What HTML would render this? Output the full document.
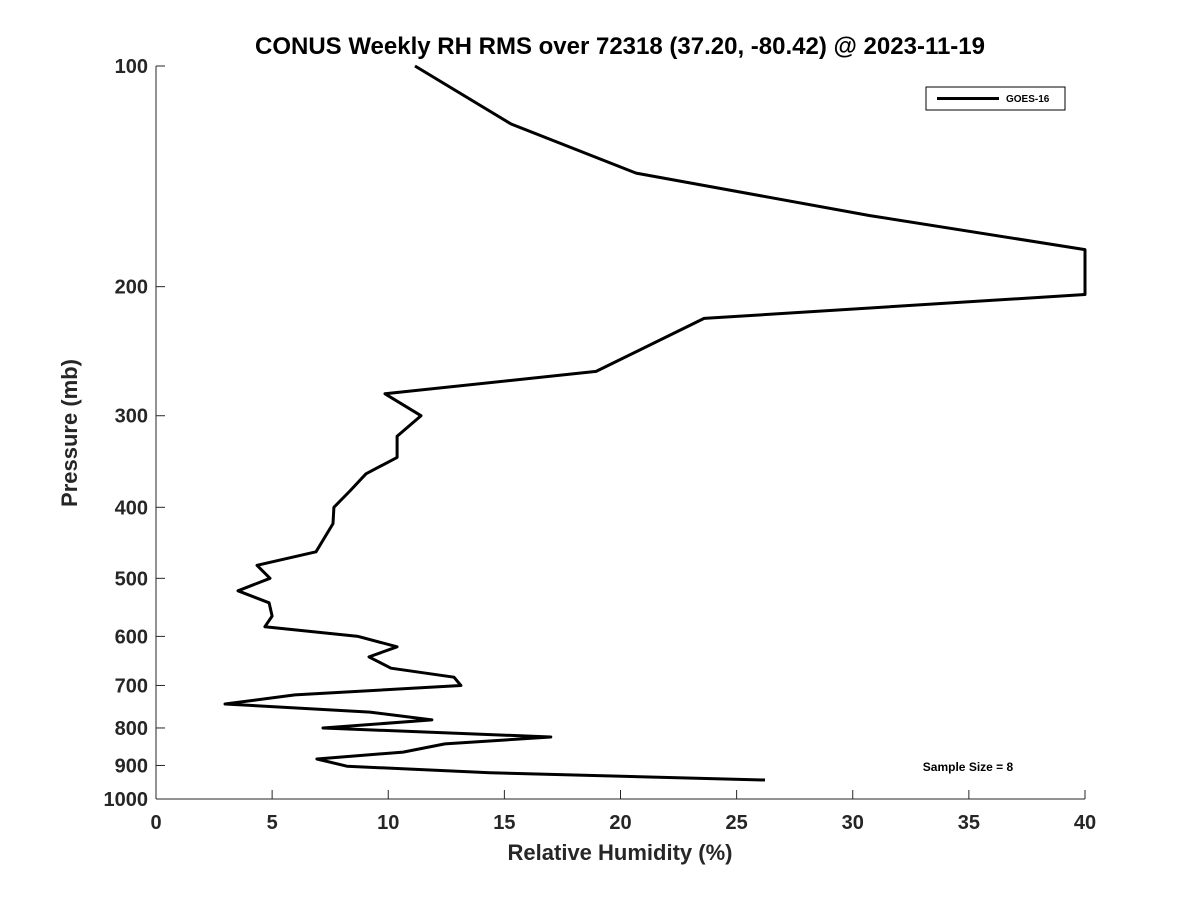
<!DOCTYPE html>
<html><head><meta charset="utf-8"><style>
body{margin:0;background:#fff;}
svg text{font-family:"Liberation Sans","DejaVu Sans",sans-serif;font-weight:bold;fill:#262626;}
</style></head><body>
<svg id="chart" width="1200" height="900" xmlns="http://www.w3.org/2000/svg">
<rect width="1200" height="900" fill="#fff"/>
<text x="620" y="54" text-anchor="middle" font-size="24" style="fill:#000">CONUS Weekly RH RMS over 72318 (37.20, -80.42) @ 2023-11-19</text>
<g id="axes"></g>
<path id="series" fill="none" stroke="#000" stroke-width="3" stroke-linejoin="round"/>
<g>
<rect x="926" y="87" width="139" height="23" fill="#fff" stroke="#000" stroke-width="1"/>
<line x1="937" y1="98.5" x2="999" y2="98.5" stroke="#000" stroke-width="3"/>
<text x="1006" y="102" font-size="10" style="fill:#000">GOES-16</text>
</g>
<text x="968" y="771" text-anchor="middle" font-size="12" style="fill:#000">Sample Size = 8</text>
<text x="620" y="860" text-anchor="middle" font-size="22">Relative Humidity (%)</text>
<text transform="translate(77,433) rotate(-90)" text-anchor="middle" font-size="22">Pressure (mb)</text>
</svg>
<script>
const rhValues=[11.15,15.29,20.67,30.74,40,40,23.6,18.95,9.86,11.41,10.38,10.38,9.04,8.35,7.66,7.62,6.89,4.35,4.91,3.53,4.87,5.0,4.69,8.7,10.38,9.17,10.12,12.83,13.13,5.98,2.97,9.21,11.88,7.19,17.0,12.44,10.64,6.93,8.22,14.38,26.22];
const pressureLevels=[100,120,140,160,178,205,221,261,280,300,320,342,360,380,400,421,460,480,500,520,540,563,582,600,620,640,663,682,700,721,742,761,780,800,823,841,863,882,902,921,942];
const xTicks=[0,5,10,15,20,25,30,35,40];
const yTicks=[100,200,300,400,500,600,700,800,900,1000];
const X0=156,X1=1085,Y0=66,Y1=799;
function xs(v){return X0+(v-0)/(40-0)*(X1-X0);}
function ys(p){return Y0+(Math.log10(p)-2)/(3-2)*(Y1-Y0);}
const ns="http://www.w3.org/2000/svg";
const ax=document.getElementById('axes');
function mk(t,a){const e=document.createElementNS(ns,t);for(const k in a)e.setAttribute(k,a[k]);ax.appendChild(e);return e;}
const l1=mk('line',{x1:X0,y1:Y0,x2:X0,y2:Y1,stroke:'#262626','stroke-width':1});


const l2=mk('line',{x1:X0,y1:Y1,x2:X1,y2:Y1,stroke:'#262626','stroke-width':1});


xTicks.forEach(v=>{const x=xs(v);
mk('line',{x1:x,y1:Y1,x2:x,y2:Y1-9,stroke:'#262626','stroke-width':1});
const t=mk('text',{x:x,y:Y1+30,'text-anchor':'middle','font-size':20});t.textContent=v;

});
yTicks.forEach(p=>{const y=ys(p);
mk('line',{x1:X0,y1:y,x2:X0+9,y2:y,stroke:'#262626','stroke-width':1});
const t=mk('text',{x:X0-8,y:y+7,'text-anchor':'end','font-size':20});t.textContent=p;

});
const d=rhValues.map((v,i)=>(i?'L':'M')+xs(v).toFixed(1)+','+ys(pressureLevels[i]).toFixed(1)).join(' ');
document.getElementById('series').setAttribute('d',d);
</script>
</body></html>
